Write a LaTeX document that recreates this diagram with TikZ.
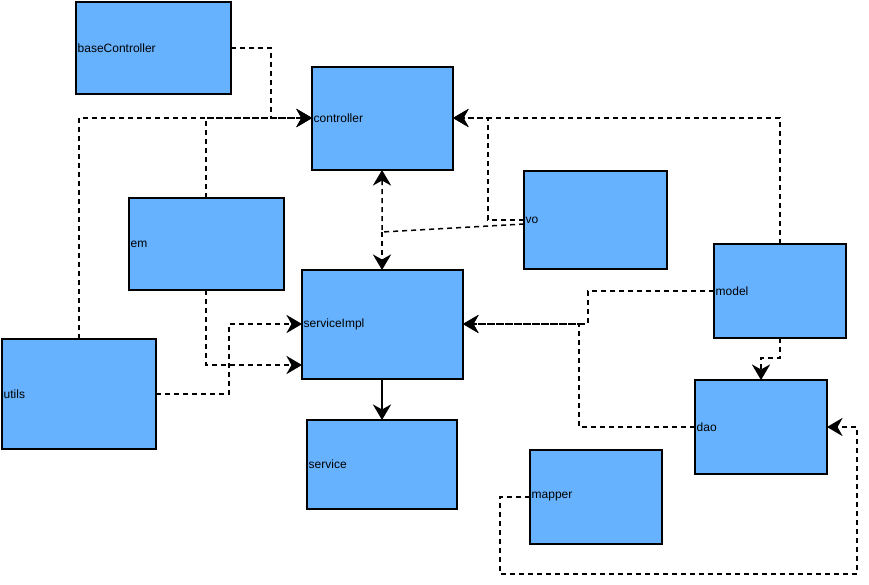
\documentclass[tikz,border=0pt]{standalone}
\usepackage{fontspec}
\setmainfont{Liberation Sans}
\usetikzlibrary{arrows.meta}
\definecolor{boxblue}{HTML}{66B2FF}
\tikzset{
  cls/.style={draw=black, line width=1.6pt, fill=boxblue, inner sep=0pt},
  dep/.style={line width=1.5pt, dash pattern=on 5pt off 4pt, -{Stealth[scale length=1.6, scale width=2.5]}},
  use/.style={line width=1.5pt, -{Stealth[scale length=1.6, scale width=2.5]}},
}
\newcommand{\clsbox}[6]{% name, x1, y1, x2, y2, text
  \draw[cls] (#2,#3) rectangle (#4,#5);
  \node[anchor=west, inner sep=1.5pt, font=\fontsize{12}{14}\selectfont] (#1) at (#2,{(#3+#5)/2}) {#6};
}
\begin{document}
\begin{tikzpicture}[x=1pt,y=-1pt]
    \useasboundingbox (0,0) rectangle (869,584);
    \clsbox{base}{76}{2}{231}{94}{baseController}
    \clsbox{ctrl}{312}{67}{453}{170}{controller}
    \clsbox{vo}{524}{171}{667}{269}{vo}
    \clsbox{em}{129}{198}{284}{290}{em}
    \clsbox{simpl}{302}{270}{463}{379}{serviceImpl}
    \clsbox{model}{714}{244}{846}{338}{model}
    \clsbox{utils}{2}{339}{156}{449}{utils}
    \clsbox{dao}{695}{380}{827}{474}{dao}
    \clsbox{service}{307}{420}{457}{509}{service}
    \clsbox{mapper}{530}{450}{662}{544}{mapper}
    % joints
    \coordinate (j1) at (382,232);
    % into controller
    \draw [dep] (231,48) -- (271,48) -- (271,118) -- (312,118);
    \draw [dep] (79,339) -- (79,118) -- (312,118);
    \draw [dep] (206,198) -- (206,118) -- (312,118);
    \draw [dep] (524,220) -- (488,220) -- (488,118) -- (453,118);
    \draw [dep] (780,244) -- (780,118) -- (453,118);
    \draw [dep] (524,224) -- (j1) -- (382,170);
    \draw [dep] (j1) -- (382,270);
    % into serviceImpl
    \draw [dep] (206,290) -- (206,365) -- (302,365);
    \draw [dep] (156,394) -- (229,394) -- (229,324) -- (302,324);
    \draw [dep] (714,291) -- (588,291) -- (588,324) -- (463,324);
    \draw [dep] (695,427) -- (579,427) -- (579,324) -- (463,324);
    % into dao
    \draw [dep] (780,338) -- (780,358) -- (761,358) -- (761,380);
    \draw [dep] (530,497) -- (500,497) -- (500,574) -- (857,574) -- (857,427) -- (827,427);
    % service
    \draw [use] (382,379) -- (382,420);
\end{tikzpicture}
\end{document}
